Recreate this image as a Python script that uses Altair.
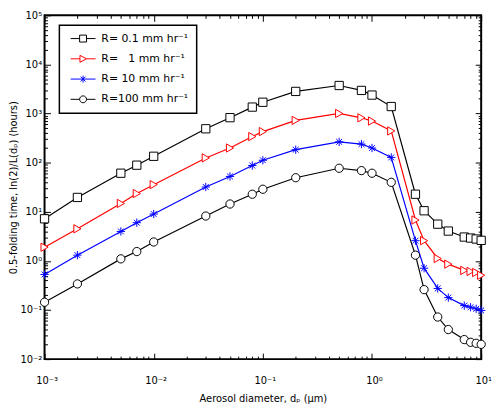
import altair as alt
import pandas as pd

# ---- data ----
diam = [0.001, 0.002, 0.005, 0.007, 0.01, 0.03, 0.05, 0.08, 0.1, 0.2, 0.5,
        0.8, 1.0, 1.5, 2.5, 3, 4, 5, 7, 8, 9, 10]
r01 = [7.2, 19.6, 61, 89, 135, 490, 825, 1355, 1700, 2825, 3730,
       2960, 2380, 1390, 22.8, 10.5, 5.6, 4.05, 3.06, 2.92, 2.79, 2.62]
r1 = [1.9, 4.5, 14.8, 23.5, 35.7, 125, 199, 340, 429, 726, 1005,
      820, 703, 443, 6.8, 2.58, 1.12, 0.86, 0.64, 0.61, 0.58, 0.51]
r10 = [0.53, 1.31, 3.98, 6.0, 9.0, 32, 52.5, 87.5, 112, 184, 266,
       239, 199, 128, 2.58, 0.71, 0.275, 0.179, 0.123, 0.114, 0.106, 0.098]
r100 = [0.144, 0.34, 1.1, 1.55, 2.43, 8.2, 14.4, 22.8, 28.8, 49.4, 77,
        69, 61, 39.8, 1.31, 0.26, 0.072, 0.04, 0.025, 0.022, 0.021, 0.02]

series = ["R= 0.1 mm hr\u207b\u00b9", "R= \u00a0\u00a01 mm hr\u207b\u00b9",
          "R= 10 mm hr\u207b\u00b9", "R=100 mm hr\u207b\u00b9"]
colors = ["#000000", "#ff0000", "#0000ff", "#000000"]

x_major = [0.001, 0.01, 0.1, 1, 10]
y_major = [0.01, 0.1, 1, 10, 100, 1000, 10000, 100000]
x_minor = [k * 10.0 ** e for e in range(-3, 1) for k in range(2, 10)]
y_minor = [k * 10.0 ** e for e in range(-2, 5) for k in range(2, 10)]

x_label_expr = ("datum.value < 0.005 ? '10\u207b\u00b3' : datum.value < 0.05 ? '10\u207b\u00b2' : "
                "datum.value < 0.5 ? '10\u207b\u00b9' : datum.value < 5 ? '10\u2070' : '10\u00b9'")
y_label_expr = ("datum.value < 0.05 ? '10\u207b\u00b2' : datum.value < 0.5 ? '10\u207b\u00b9' : "
                "datum.value < 5 ? '10\u2070' : datum.value < 50 ? '10\u00b9' : "
                "datum.value < 500 ? '10\u00b2' : datum.value < 5000 ? '10\u00b3' : "
                "datum.value < 50000 ? '10\u2074' : '10\u2075'")

rows = []
for name, vals in zip(series, [r01, r1, r10, r100]):
    for d, t in zip(diam, vals):
        rows.append({"d": d, "t": t, "series": name})
df = pd.DataFrame(rows)

# ---- styles ----
FONT = "DejaVu Sans"
star = "M-1,0H1M0,-1V1M-0.7,-0.7L0.7,0.7M-0.7,0.7L0.7,-0.7"
plot_shapes = ["square", "triangle-right", star, "circle"]
stub = "M-3.6,0H-1M1,0H3.6"
legend_shapes = [
    stub + "M-1,-1H1V1H-1Z",
    "M-3.6,0H-0.9M1,0H3.6M-0.9,-1L1,0L-0.9,1Z",
    "M-3.6,0H3.6M0,-1V1M-0.7,-0.7L0.7,0.7M-0.7,0.7L0.7,-0.7",
    stub + "M-1,0A1,1,0,1,1,1,0A1,1,0,1,1,-1,0Z",
]

xs = alt.Scale(type="log", domain=[1e-3, 10], nice=False)
ys = alt.Scale(type="log", domain=[1e-2, 1e5], nice=False)
cscale = alt.Scale(domain=series, range=colors)

base = alt.Chart(df)

lines = base.mark_line(strokeWidth=1.2).encode(
    x=alt.X("d:Q", scale=xs, axis=alt.Axis(
        orient="bottom", values=x_major, labelExpr=x_label_expr, ticks=False, tickSize=0,
        domain=False, grid=False, labelPadding=17, labelFlush=False, labelOverlap=False,
        labelOffset=2, title="Aerosol diameter, d\u209a (\u03bcm)", titlePadding=8)),
    y=alt.Y("t:Q", scale=ys, axis=alt.Axis(
        orient="left", values=y_major, labelExpr=y_label_expr, ticks=False, tickSize=0,
        domain=False, grid=False, labelPadding=3, labelFlush=False, labelOverlap=False,
        title="0.5-folding time, ln(2)/L(d\u209a) (hours)", titlePadding=1)),
    color=alt.Color("series:N", scale=cscale, legend=None),
)

points = base.mark_point(filled=False, fill="white", size=70, strokeWidth=1, opacity=1).encode(
    x=alt.X("d:Q", scale=xs, axis=None),
    y=alt.Y("t:Q", scale=ys, axis=None),
    color=alt.Color("series:N", scale=cscale, legend=None),
    shape=alt.Shape("series:N", scale=alt.Scale(domain=series, range=plot_shapes), legend=None),
)

leg = alt.Legend(title=None, orient="none", legendX=15, legendY=10, strokeColor="black",
                 fillColor="white", padding=8, symbolSize=49, symbolStrokeWidth=1,
                 symbolOpacity=1, labelFont=FONT, labelFontSize=11, labelColor="black",
                 labelOffset=13, rowPadding=8.5, symbolOffset=10.5)

legend_layer = base.mark_point(filled=False, opacity=0).encode(
    x=alt.X("d:Q", scale=xs, axis=None),
    y=alt.Y("t:Q", scale=ys, axis=None),
    color=alt.Color("series:N", scale=cscale, legend=leg),
    shape=alt.Shape("series:N", scale=alt.Scale(domain=series, range=legend_shapes), legend=leg),
)


def tick_layer(xv, yv, xo, yo, size):
    def ax(orient, vals):
        return alt.Axis(orient=orient, values=vals, labels=False, domain=False, grid=False,
                        ticks=True, tickSize=size, offset=-size, tickColor="black",
                        tickWidth=1, title=None)
    return base.mark_point(opacity=0).encode(
        x=alt.X("d:Q", scale=xs, axis=ax(xo, xv)),
        y=alt.Y("t:Q", scale=ys, axis=ax(yo, yv)),
    )


chart = alt.layer(
    lines, points, legend_layer,
    tick_layer(x_major, y_major, "bottom", "left", 6),
    tick_layer(x_minor, y_minor, "bottom", "left", 3),
    tick_layer(x_major, y_major, "top", "right", 6),
    tick_layer(x_minor, y_minor, "top", "right", 3),
).resolve_scale(
    color="independent", shape="independent"
).resolve_axis(
    x="independent", y="independent"
).properties(
    width=442, height=348,
    padding={"left": 37, "top": 5, "right": 14, "bottom": 44},
    autosize=alt.AutoSizeParams(type="none"),
    background="white",
).configure_view(
    stroke="black", strokeWidth=2
).configure_axis(
    labelFont=FONT, titleFont=FONT, labelFontSize=10, titleFontSize=10,
    labelColor="black", titleColor="black", titleFontWeight="normal",
).configure_legend(
    strokeWidth=1.5
)

chart.save("out.html", embed_options={"renderer": "svg", "actions": False})
